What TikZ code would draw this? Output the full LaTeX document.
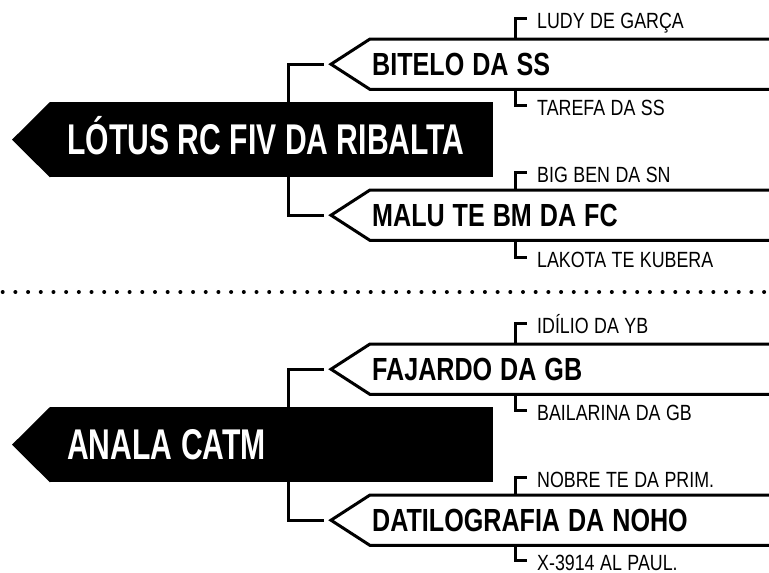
\documentclass[tikz,border=0pt]{standalone}
\usepackage{fontspec}
\newfontfamily\rootfont{Liberation Sans}[UprightFont=* Bold, FakeStretch=0.70]
\newfontfamily\branchfont{Liberation Sans}[UprightFont=* Bold, FakeStretch=0.785]
\newfontfamily\leaffont{Liberation Sans}[FakeStretch=0.81]
\newcommand\rootsize{\rootfont\fontsize{43pt}{43pt}\selectfont\spaceskip 8.5pt\relax}
\newcommand\branchsize{\branchfont\fontsize{32pt}{32pt}\selectfont\spaceskip 8pt\relax}
\newcommand\leafsize{\leaffont\fontsize{22pt}{22pt}\selectfont\spaceskip 5.5pt\relax}
\tikzset{
    rootbox/.style={rectangle, fill=black, text=white, anchor=north west,
        minimum height=75pt, inner xsep=17pt, inner ysep=0pt, text width=409pt,
        align=flush left, text height=30pt, text depth=0pt, font=\rootsize},
    branchbox/.style={rectangle, anchor=north west, minimum height=50pt,
        inner xsep=2pt, inner ysep=0pt, text width=406pt, align=flush left,
        text height=22pt, text depth=0pt, font=\branchsize},
    leaf/.style={anchor=base west, inner sep=0pt, font=\leafsize},
    outline/.style={line width=3pt},
    link/.style={line width=3pt},
    dotline/.style={line width=4pt, line cap=round, dash pattern=on 0pt off 12.69pt}
}
\begin{document}
\begin{tikzpicture}[x=1pt,y=-1pt]
                    \useasboundingbox (0,0) rectangle (769,573);
                    \node[rootbox] (lotus) at (50,102) {LÓTUS RC FIV DA RIBALTA};
                    \node[branchbox] (bitelo) at (370,39) {BITELO DA SS};
                    \node[branchbox] (malu) at (370,190) {MALU TE BM DA FC};
                    \node[leaf] (ludy) at (537,28) {LUDY DE GARÇA};
                    \node[leaf] (tarefa) at (537,115) {TAREFA DA SS};
                    \node[leaf] (bigben) at (537,182) {BIG BEN DA SN};
                    \node[leaf] (lakota) at (537,267) {LAKOTA TE KUBERA};
                    \fill (lotus.north west) -- ([xshift=-38pt]lotus.west) -- (lotus.south west) -- cycle;
                    \draw[outline] (bitelo.north east) -- (bitelo.north west) -- ([xshift=-39pt]bitelo.west)
                        -- (bitelo.south west) -- (bitelo.south east);
                    \draw[outline] (malu.north east) -- (malu.north west) -- ([xshift=-39pt]malu.west)
                        -- (malu.south west) -- (malu.south east);
                    \draw[link] ([xshift=238pt]lotus.north west) |- ([xshift=-46pt]bitelo.west);
                    \draw[link] ([xshift=238pt]lotus.south west) |- ([xshift=-46pt]malu.west);
                    \coordinate (ludy-k) at ([xshift=-22pt]ludy.base west);
                    \coordinate (tarefa-k) at ([xshift=-22pt]tarefa.base west);
                    \coordinate (bigben-k) at ([xshift=-22pt]bigben.base west);
                    \coordinate (lakota-k) at ([xshift=-22pt]lakota.base west);
                    \draw[link] (ludy-k |- bitelo.north) |- ([xshift=-10pt,yshift=10pt]ludy.base west);
                    \draw[link] (tarefa-k |- bitelo.south) |- ([xshift=-10pt,yshift=10pt]tarefa.base west);
                    \draw[link] (bigben-k |- malu.north) |- ([xshift=-10pt,yshift=10pt]bigben.base west);
                    \draw[link] (lakota-k |- malu.south) |- ([xshift=-10pt,yshift=10pt]lakota.base west);
                    \draw[dotline] (2.7,292) -- (769,292);
                    \node[rootbox] (anala) at (50,407) {ANALA CATM};
                    \node[branchbox] (fajardo) at (370,344) {FAJARDO DA GB};
                    \node[branchbox] (datilo) at (370,495) {DATILOGRAFIA DA NOHO};
                    \node[leaf] (idilio) at (537,333) {IDÍLIO DA YB};
                    \node[leaf] (bailarina) at (537,420) {BAILARINA DA GB};
                    \node[leaf] (nobre) at (537,487) {NOBRE TE DA PRIM.};
                    \node[leaf] (paul) at (537,570) {X-3914 AL PAUL.};
                    \fill (anala.north west) -- ([xshift=-38pt]anala.west) -- (anala.south west) -- cycle;
                    \draw[outline] (fajardo.north east) -- (fajardo.north west) -- ([xshift=-39pt]fajardo.west)
                        -- (fajardo.south west) -- (fajardo.south east);
                    \draw[outline] (datilo.north east) -- (datilo.north west) -- ([xshift=-39pt]datilo.west)
                        -- (datilo.south west) -- (datilo.south east);
                    \draw[link] ([xshift=238pt]anala.north west) |- ([xshift=-46pt]fajardo.west);
                    \draw[link] ([xshift=238pt]anala.south west) |- ([xshift=-46pt]datilo.west);
                    \coordinate (idilio-k) at ([xshift=-22pt]idilio.base west);
                    \coordinate (bailarina-k) at ([xshift=-22pt]bailarina.base west);
                    \coordinate (nobre-k) at ([xshift=-22pt]nobre.base west);
                    \coordinate (paul-k) at ([xshift=-22pt]paul.base west);
                    \draw[link] (idilio-k |- fajardo.north) |- ([xshift=-10pt,yshift=10pt]idilio.base west);
                    \draw[link] (bailarina-k |- fajardo.south) |- ([xshift=-10pt,yshift=10pt]bailarina.base west);
                    \draw[link] (nobre-k |- datilo.north) |- ([xshift=-10pt,yshift=10pt]nobre.base west);
                    \draw[link] (paul-k |- datilo.south) |- ([xshift=-10pt,yshift=10pt]paul.base west);
                \end{tikzpicture}
\end{document}
